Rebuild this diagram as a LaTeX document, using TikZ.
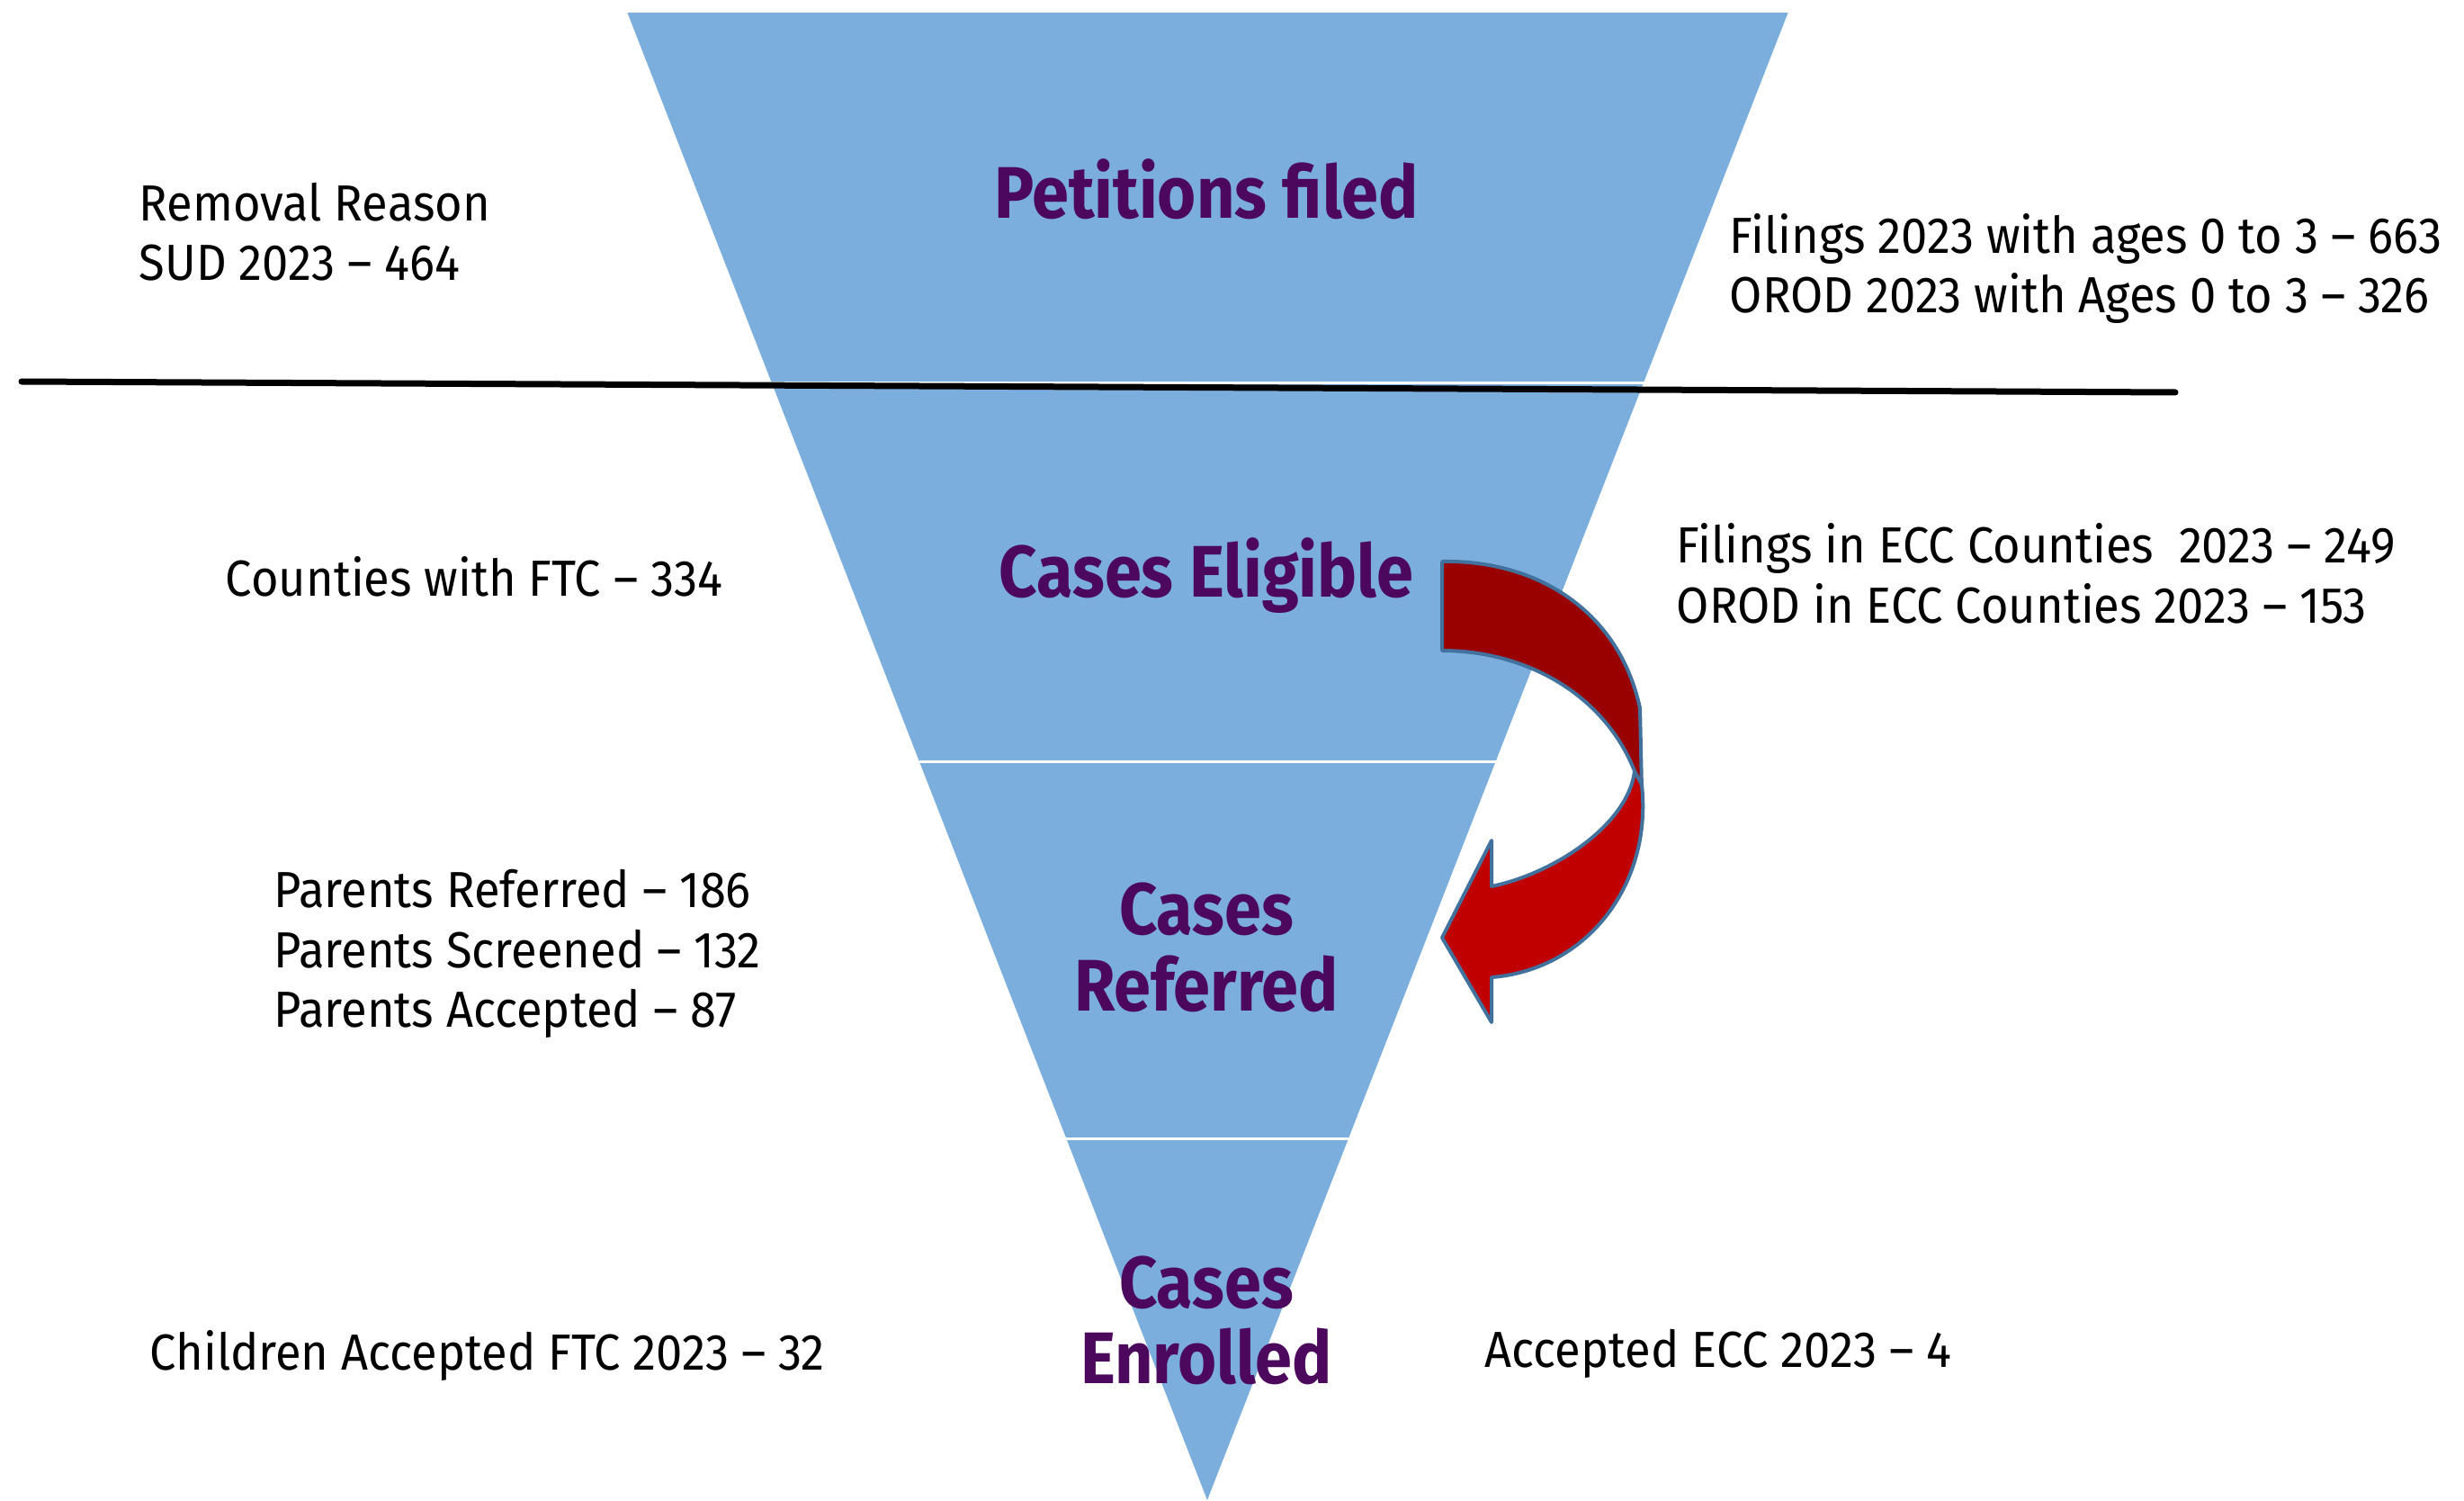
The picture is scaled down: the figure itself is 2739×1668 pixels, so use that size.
\documentclass[tikz,border=0pt]{standalone}
\usepackage{fontspec}
\setmainfont{Fira Sans}[FakeStretch=0.93, BoldFeatures={FakeStretch=0.91}]
\definecolor{funnelblue}{RGB}{123,174,221}
\definecolor{titlepurple}{RGB}{76,8,92}
\definecolor{arrowdark}{RGB}{153,0,0}
\definecolor{arrowred}{RGB}{192,0,0}
\definecolor{arrowedge}{RGB}{65,113,156}
\tikzset{
  lab/.style={font=\fontsize{14.1}{16}\selectfont, inner sep=0pt, anchor=base west, text=black},
  ttl/.style={font=\bfseries\fontsize{20.3}{22}\selectfont, inner sep=0pt, anchor=base, text=titlepurple},
  sepline/.style={draw=white, line width=0.75pt},
  arrowpart/.style={draw=arrowedge, line width=1pt, line join=round}
}
\begin{document}
\begin{tikzpicture}[x=0.25pt,y=-0.25pt]
\useasboundingbox (0,0) rectangle (2739,1668);
% funnel
\coordinate (tl) at (697,13);
\coordinate (tr) at (1988,13);
\coordinate (apex) at (1342,1667);
\fill[funnelblue] (tl) -- (tr) -- (apex) -- cycle;
\draw[white, line width=0.5pt] (tl) -- (tr);
% separators
\coordinate (s1l) at (797,426); \coordinate (s1r) at (1883,426);
\coordinate (s2l) at (1022,846); \coordinate (s2r) at (1663,846);
\coordinate (s3l) at (1181,1265); \coordinate (s3r) at (1499,1265);
\draw[sepline] (s1l) -- (s1r);
\draw[sepline] (s2l) -- (s2r);
\draw[sepline] (s3l) -- (s3r);
% black divider
\coordinate (bl) at (24,424);
\coordinate (br) at (2418,436);
\draw[black, line width=1.75pt, line cap=round] (bl) -- (br);
% curved arrow: back (dark) part
\path[arrowpart, fill=arrowdark] (1603,624) .. controls (1710,622) and (1800,680) .. (1823,787) -- (1825,878) -- (1817,857) .. controls (1785,775) and (1700,723) .. (1603,723) -- cycle;
% front (red) part with head
\path[arrowpart, fill=arrowred] (1817,857) -- (1825,872) .. controls (1837,985) and (1762,1078) .. (1658,1086) -- (1658,1136) -- (1603,1042) -- (1658,934) -- (1658,985) .. controls (1730,970) and (1810,915) .. (1817,857) -- cycle;
% titles
\node[ttl] (t1) at (1341,243) {Petitions filed};
\node[ttl] (t2) at (1341,663) {Cases Eligible};
\node[ttl] (t3a) at (1341,1038) {Cases};
\node[ttl] (t3b) at (1341,1123) {Referred};
\node[ttl] (t4a) at (1341,1453) {Cases};
\node[ttl] (t4b) at (1341,1537) {Enrolled};
% left labels
\node[lab] (rr1) at (154,246) {Removal Reason};
\node[lab] (rr2) at (154,312) {SUD 2023 – 464};
\node[lab] (cf) at (250,662) {Counties with FTC – 334};
\node[lab] (p1) at (304,1008) {Parents Referred – 186};
\node[lab] (p2) at (304,1075) {Parents Screened – 132};
\node[lab] (p3) at (304,1141) {Parents Accepted – 87};
\node[lab] (ch) at (166,1522) {Children Accepted FTC 2023 – 32};
% right labels
\node[lab] (f1) at (1922,282) {Filings 2023 with ages 0 to 3 – 663};
\node[lab] (f2) at (1922,348) {OROD 2023 with Ages 0 to 3 – 326};
\node[lab] (e1) at (1863,625) {Filings in ECC Counties~ 2023 – 249};
\node[lab] (e2) at (1863,692) {OROD in ECC Counties 2023 – 153};
\node[lab] (ae) at (1650,1519) {Accepted ECC 2023 – 4};
\end{tikzpicture}
\end{document}
